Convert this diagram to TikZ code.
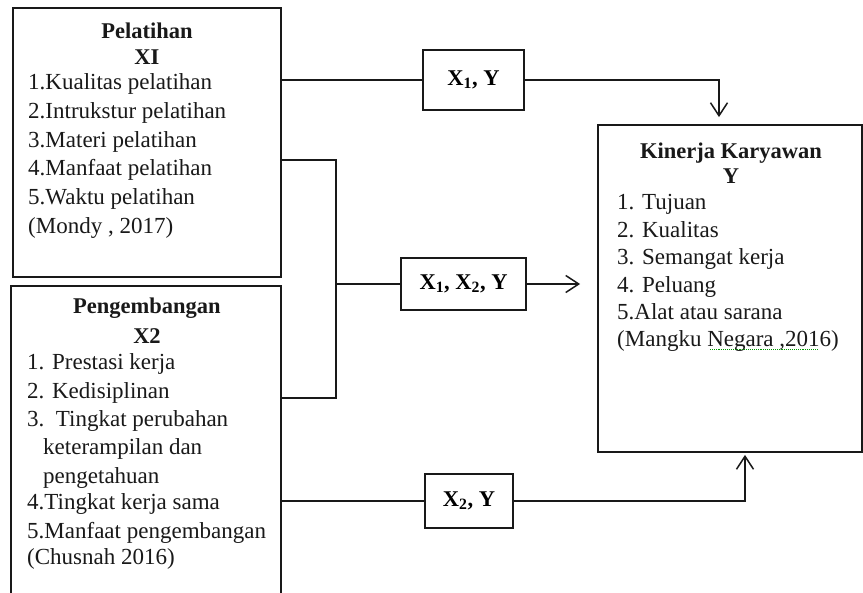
\documentclass[tikz,border=0pt]{standalone}
\usepackage{fontspec}
\setmainfont{Liberation Serif}
\usetikzlibrary{arrows.meta}
\tikzset{
  bigbox/.style={draw=black!90, line width=1.8pt, inner sep=0pt},
  lblbox/.style={draw=black!90, line width=1.6pt, inner sep=0pt, font=\fontsize{22.5}{28}\selectfont\bfseries},
  item/.style={anchor=base west, inner sep=0pt, font=\fontsize{23}{28}\selectfont, text=black!90},
  ttl/.style={anchor=base, inner sep=0pt, font=\fontsize{22.5}{28}\selectfont\bfseries, text=black!90},
  conn/.style={draw=black!90, line width=1.5pt},
  arr/.style={conn, -{Straight Barb[length=13pt,width=17pt,line width=1.5pt]}},
}
\begin{document}
\begin{tikzpicture}[x=1pt,y=-1pt]
\useasboundingbox (0,0) rectangle (863,593);
\clip (0,0) rectangle (863,593);
\fill[white] (0,0) rectangle (863,593);

% main boxes
\node[bigbox, minimum width=268, minimum height=269] (A) at (147,142.5) {};
\node[bigbox, minimum width=270, minimum height=340] (B) at (146,456) {};
\node[bigbox, minimum width=264, minimum height=327] (K) at (730,288.5) {};

% label boxes
\node[lblbox, minimum width=101, minimum height=60] (C) at (473.5,80) {X\textsubscript{1}, Y};
\node[lblbox, minimum width=125, minimum height=52] (D) at (463.5,284) {X\textsubscript{1}, X\textsubscript{2}, Y};
\node[lblbox, minimum width=88, minimum height=54] (E) at (469,501) {X\textsubscript{2}, Y};

% box A text
\node[ttl] (at1) at (147,39) {Pelatihan};
\node[ttl] (at2) at (147,65) {XI};
\foreach \t [count=\i] in {1.Kualitas pelatihan, 2.Intrukstur pelatihan, 3.Materi pelatihan, 4.Manfaat pelatihan, 5.Waktu pelatihan, {(Mondy , 2017)}}
  \node[item] (a\i) at (28,{89.5+28.8*(\i-1)}) {\t};

% box B text
\node[ttl] (bt1) at (147,314) {Pengembangan};
\node[ttl] (bt2) at (147,344) {X2};
\node[item] (b1) at (27,370) {1. Prestasi kerja};
\node[item] (b2) at (27,398.5) {2. Kedisiplinan};
\node[item] (b3) at (27,427) {3.\ \ Tingkat perubahan};
\node[item] (b4) at (43,455) {keterampilan dan};
\node[item] (b5) at (43,483.5) {pengetahuan};
\node[item] (b6) at (27,510) {4.Tingkat kerja sama};
\node[item] (b7) at (27,538.5) {5.Manfaat pengembangan};
\node[item] (b8) at (27,565) {(Chusnah 2016)};

% Kinerja text
\node[ttl] (kt1) at (731,159) {Kinerja Karyawan};
\node[ttl] (kt2) at (731,184) {Y};
\foreach \t [count=\i] in {1. Tujuan, 2. Kualitas, 3. Semangat kerja, 4. Peluang, 5.Alat atau sarana, {(Mangku Negara ,2016)}}
  \node[item] (k\i) at (617,{210+27.4*(\i-1)}) {\t};
\draw[green!60!black, densely dotted, line width=1.1pt] (710,349.5) -- (818,349.5);

% coordinates
\coordinate (tx) at (719,0);
\coordinate (j1) at (336,160);
\coordinate (j2) at (336,398);
\coordinate (bx) at (745,0);

% connectors
\draw[conn] (A.east |- C.west) -- (C.west);
\draw[arr, shorten >=7pt] (C.east) -| (K.north -| tx);

\draw[conn] (A.east |- j1) -- (j1) -- (j2) -- (B.east |- j2);
\draw[conn] (j1 |- D.west) -- (D.west);
\draw[arr, shorten >=17pt] (D.east) -- (D.east -| K.west);

\draw[conn] (B.east |- E.west) -- (E.west);
\draw[arr, shorten >=2pt] (E.east) -| (K.south -| bx);
\end{tikzpicture}
\end{document}
